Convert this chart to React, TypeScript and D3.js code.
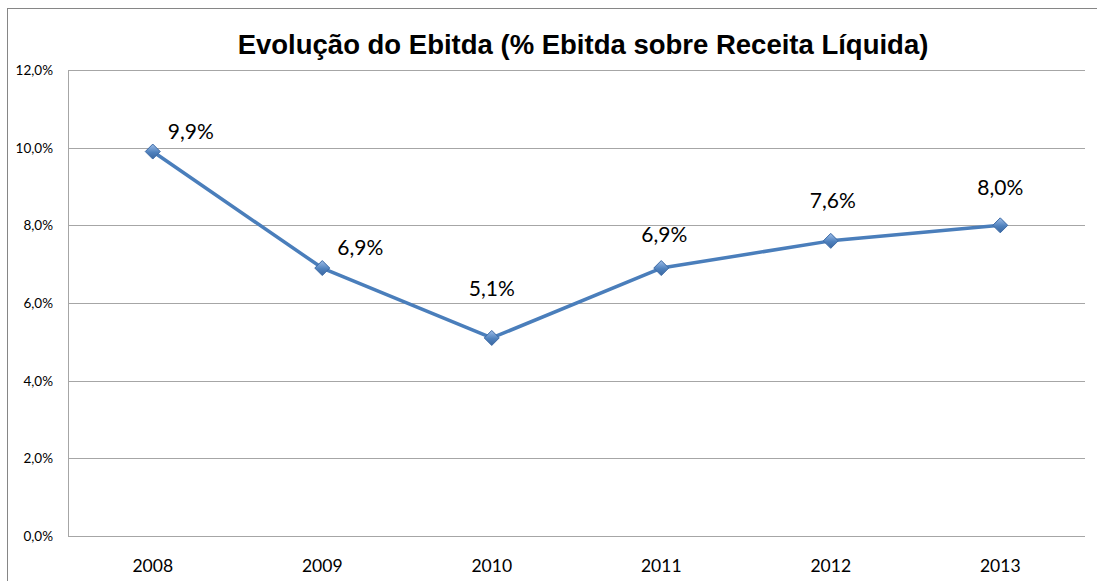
import * as d3 from "d3";
import React, { useEffect, useRef } from "react";

const years = ["2008", "2009", "2010", "2011", "2012", "2013"];
const ebitda = [9.9, 6.9, 5.1, 6.9, 7.6, 8.0];
const yTicks = [0, 2, 4, 6, 8, 10, 12];
const title = "Evolução do Ebitda (% Ebitda sobre Receita Líquida)";

const fmt = (v: number, digits: number) => v.toFixed(digits).replace(".", ",") + "%";

export default function App() {
    const ref = useRef<SVGSVGElement>(null);

    useEffect(() => {
        const svg = d3.select(ref.current);
        svg.selectAll("*").remove();

        const W = 1097, H = 581;
        const m = { left: 68, right: 12, top: 70, bottom: 45 };

        const x = d3.scaleBand().domain(years).range([m.left, W - m.right]);
        const y = d3.scaleLinear().domain([0, 12]).range([H - m.bottom, m.top]);

        const defs = svg.append("defs");
        const grad = defs.append("linearGradient")
            .attr("id", "mk").attr("x1", 0).attr("y1", 0).attr("x2", 0).attr("y2", 1);
        grad.append("stop").attr("offset", "0%").attr("stop-color", "#9dbde8");
        grad.append("stop").attr("offset", "55%").attr("stop-color", "#4f81bd");
        grad.append("stop").attr("offset", "100%").attr("stop-color", "#3a67a0");

        // chart frame
        svg.append("rect")
            .attr("x", 7.5).attr("y", 8.5)
            .attr("width", W + 20).attr("height", H + 20)
            .attr("fill", "#fff").attr("stroke", "#868686");

        svg.append("text")
            .attr("x", 583).attr("y", 54)
            .attr("text-anchor", "middle")
            .style("font-family", "'Liberation Sans', Arial, sans-serif")
            .style("font-weight", "bold")
            .style("font-size", "27.5px")
            .attr("fill", "#000")
            .text(title);

        // gridlines
        svg.append("g")
            .selectAll("line")
            .data(yTicks)
            .join("line")
            .attr("x1", m.left).attr("x2", W - m.right)
            .attr("y1", (d) => Math.round(y(d)) + 0.5)
            .attr("y2", (d) => Math.round(y(d)) + 0.5)
            .attr("stroke", "#a6a6a6");

        svg.append("line")
            .attr("x1", m.left + 0.5).attr("x2", m.left + 0.5)
            .attr("y1", m.top).attr("y2", H - m.bottom)
            .attr("stroke", "#a6a6a6");

        // y labels
        svg.append("g")
            .selectAll("text")
            .data(yTicks)
            .join("text")
            .attr("x", 53)
            .attr("y", (d) => y(d) + 5)
            .attr("text-anchor", "end")
            .style("font-family", "Lato, 'Open Sans', sans-serif")
            .style("font-size", "13.5px")
            .attr("fill", "#000")
            .text((d) => fmt(d, 1));

        // x labels
        svg.append("g")
            .selectAll("text")
            .data(years)
            .join("text")
            .attr("x", (d) => x(d)! + x.bandwidth() / 2)
            .attr("y", 572)
            .attr("text-anchor", "middle")
            .style("font-family", "Lato, 'Open Sans', sans-serif")
            .style("font-size", "17.5px")
            .attr("fill", "#000")
            .text((d) => d);

        const px = (i: number) => x(years[i])! + x.bandwidth() / 2;

        const line = d3.line<number>()
            .x((_, i) => px(i))
            .y((d) => y(d));

        svg.append("path")
            .datum(ebitda)
            .attr("d", line)
            .attr("fill", "none")
            .attr("stroke", "#4a7ebb")
            .attr("stroke-width", 3.5)
            .attr("stroke-linejoin", "round");

        svg.append("g")
            .selectAll("path")
            .data(ebitda)
            .join("path")
            .attr("transform", (d, i) => `translate(${px(i)},${y(d)})`)
            .attr("d", "M0,-7.5 L7.5,0 L0,7.5 L-7.5,0 Z")
            .attr("fill", "url(#mk)")
            .attr("stroke", "#3c6aa6")
            .attr("stroke-width", 1);

        // data labels (first two pushed right, as in the source)
        const labelDx = [38, 38, 0, 3, 2, 0];
        const labelDy = [-13, -13, -42, -26, -33, -30];
        svg.append("g")
            .selectAll("text")
            .data(ebitda)
            .join("text")
            .attr("x", (d, i) => px(i) + labelDx[i])
            .attr("y", (d, i) => y(d) + labelDy[i])
            .attr("text-anchor", "middle")
            .style("font-family", "Lato, 'Open Sans', sans-serif")
            .style("font-size", "21px")
            .attr("fill", "#000")
            .text((d) => fmt(d, 1));
    }, []);

    return (
        <svg
            ref={ref}
            width={1097}
            height={581}
            style={{ position: "absolute", left: 0, top: 0, background: "#fff" }}
        />
    );
}
